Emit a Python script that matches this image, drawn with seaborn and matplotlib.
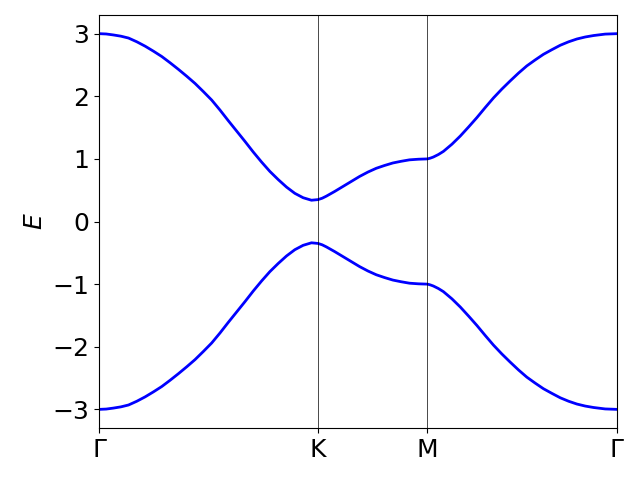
import numpy as np
import pandas as pd
import seaborn as sns
import matplotlib
matplotlib.use("Agg")
import matplotlib.pyplot as plt

# k-path positions (Gamma-K = 1) of the points
k_path = [0.000, 0.032, 0.064, 0.099, 0.134, 0.172, 0.210, 0.248, 0.286,
          0.324, 0.362, 0.400, 0.438, 0.476, 0.514, 0.552, 0.590, 0.628,
          0.666, 0.704, 0.742, 0.780, 0.818, 0.856, 0.894, 0.932, 0.970,
          1.000, 1.019, 1.038, 1.076, 1.114, 1.152, 1.190, 1.228, 1.266,
          1.304, 1.342, 1.380, 1.418, 1.459, 1.500, 1.513, 1.527, 1.550,
          1.573, 1.612, 1.650, 1.688, 1.726, 1.764, 1.802, 1.840, 1.878,
          1.916, 1.954, 1.992, 2.030, 2.069, 2.107, 2.145, 2.183, 2.221,
          2.259, 2.312, 2.366]

# upper band energies
band_upper = [3.00, 2.995, 2.98, 2.96, 2.93, 2.87, 2.80, 2.72, 2.635,
              2.535, 2.43, 2.32, 2.205, 2.075, 1.94, 1.78, 1.61, 1.445,
              1.28, 1.11, 0.95, 0.80, 0.67, 0.55, 0.45, 0.38, 0.34,
              0.35, 0.372, 0.405, 0.48, 0.56, 0.64, 0.72, 0.79, 0.85,
              0.895, 0.935, 0.962, 0.985, 0.995, 1.00, 1.012, 1.03, 1.07,
              1.12, 1.235, 1.365, 1.51, 1.66, 1.82, 1.975, 2.115, 2.245,
              2.37, 2.485, 2.58, 2.67, 2.745, 2.815, 2.87, 2.915, 2.947,
              2.97, 2.993, 3.00]

# lower band energies
band_lower = [-3.00, -2.995, -2.98, -2.96, -2.93, -2.87, -2.80, -2.72, -2.635,
              -2.535, -2.43, -2.32, -2.205, -2.075, -1.94, -1.78, -1.61, -1.445,
              -1.28, -1.11, -0.95, -0.80, -0.67, -0.55, -0.45, -0.38, -0.34,
              -0.35, -0.372, -0.405, -0.48, -0.56, -0.64, -0.72, -0.79, -0.85,
              -0.895, -0.935, -0.962, -0.985, -0.995, -1.00, -1.012, -1.03, -1.07,
              -1.12, -1.235, -1.365, -1.51, -1.66, -1.82, -1.975, -2.115, -2.245,
              -2.37, -2.485, -2.58, -2.67, -2.745, -2.815, -2.87, -2.915, -2.947,
              -2.97, -2.993, -3.00]

# high symmetry points
hs_pos = [0.0, 1.0, 1.5, 2.366]
hs_labels = ["Γ", "K", "M", "Γ"]

df = pd.DataFrame({"k": k_path, "upper": band_upper, "lower": band_lower})

fig, ax = plt.subplots(figsize=(6.4, 4.8), dpi=100)
sns.lineplot(data=df, x="k", y="upper", color="blue", linewidth=2, ax=ax)
sns.lineplot(data=df, x="k", y="lower", color="blue", linewidth=2, ax=ax)

# vertical lines at the inner high symmetry points
for p in hs_pos[1:-1]:
    ax.axvline(p, color="k", linewidth=0.5)

ax.set_xlim(hs_pos[0], hs_pos[-1])
ax.set_xticks(hs_pos)
ax.set_xticklabels(hs_labels)
ax.set_xlabel("")
ax.set_ylabel("$E$", fontsize=18)
ax.tick_params(labelsize=18)

fig.subplots_adjust(left=0.155, right=0.964, top=0.969, bottom=0.108)
plt.savefig("out.png", dpi=100)
